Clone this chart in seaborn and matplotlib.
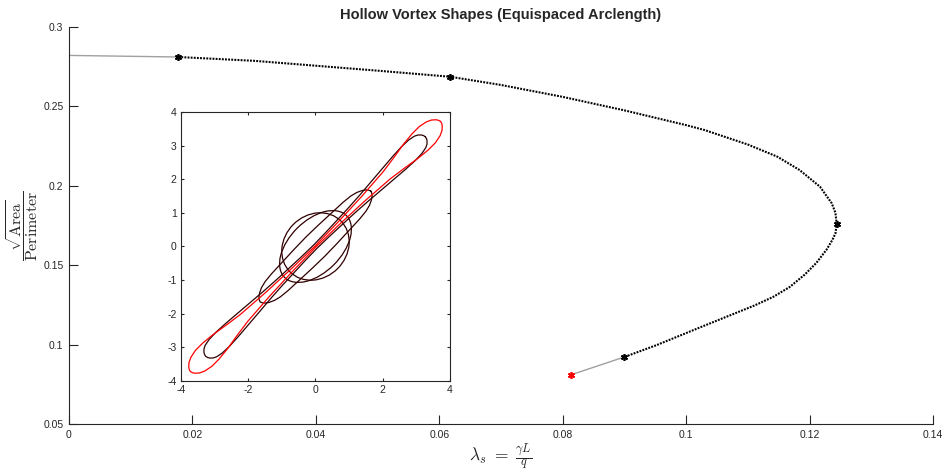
import numpy as np
import matplotlib
matplotlib.use("Agg")
import matplotlib.pyplot as plt
from matplotlib.patches import Ellipse
from matplotlib.transforms import Affine2D
import seaborn as sns

# sqrt(Area)/Perimeter against lambda_s
lam_start = [0.0, 0.0177]
ratio_start = [0.2821, 0.2811]

lam_branch = [0.0177, 0.0300, 0.0400, 0.0500, 0.0617, 0.0700, 0.0800, 0.0900,
              0.1000, 0.1030, 0.1100, 0.1148, 0.1184, 0.1217, 0.1236, 0.1242,
              0.1244, 0.1242, 0.1237, 0.1228, 0.1211, 0.1192, 0.1168, 0.1141,
              0.1110, 0.1025, 0.0953, 0.0900]
ratio_branch = [0.2811, 0.2787, 0.2756, 0.2725, 0.2687, 0.2635, 0.2560, 0.2475,
                0.2382, 0.2351, 0.2260, 0.2183, 0.2099, 0.1994, 0.1890, 0.1830,
                0.1760, 0.1700, 0.1659, 0.1600, 0.1514, 0.1440, 0.1363, 0.1300,
                0.1245, 0.1112, 0.0998, 0.0922]

lam_end = [0.0900, 0.0813]
ratio_end = [0.0922, 0.0809]

lam_marked = [0.0177, 0.0617, 0.1244, 0.0900]
ratio_marked = [0.2811, 0.2687, 0.1760, 0.0922]
lam_last = [0.0813]
ratio_last = [0.0809]

xticks = [0, 0.02, 0.04, 0.06, 0.08, 0.1, 0.12, 0.14]
yticks = [0.05, 0.1, 0.15, 0.2, 0.25, 0.3]

# inset shapes, in a frame along the diagonal (u) and across it (half width h)
circle_axes = (1.07, 0.93)
ellipse_axes = (1.30, 0.77)

turn_u = [0.0, 0.5, 1.0, 1.5, 1.8, 2.0, 2.15, 2.25, 2.30, 2.33]
turn_h = [0.40, 0.39, 0.37, 0.35, 0.32, 0.27, 0.20, 0.13, 0.07, 0.0]

lower_u = [0.0, 0.5, 1.0, 1.5, 2.0, 2.5, 3.0, 3.5, 3.9, 4.2, 4.4, 4.5, 4.57, 4.60, 4.62]
lower_h = [0.07, 0.08, 0.10, 0.12, 0.15, 0.19, 0.23, 0.27, 0.29, 0.28, 0.24, 0.19, 0.12, 0.07, 0.0]

red_u = [0.0, 1.0, 2.0, 3.0, 3.5, 4.0, 4.4, 4.7, 4.95, 5.1, 5.2, 5.24, 5.26]
red_h = [0.02, 0.04, 0.08, 0.15, 0.22, 0.30, 0.34, 0.34, 0.29, 0.22, 0.13, 0.07, 0.0]

inset_ticks = [-4, -3, -2, -1, 0, 1, 2, 3, 4]
inset_xticks = [-4, -2, 0, 2, 4]

dark = "#300000"
axis_grey = "#262626"


def outline(u, h):
    u = np.asarray(u)
    h = np.asarray(h)
    uu = np.concatenate([u[::-1], -u[1:]])
    hh = np.concatenate([h[::-1], h[1:]])
    xs = np.concatenate([uu, -uu, uu[:1]])
    ys = np.concatenate([hh, -hh, hh[:1]])
    return xs, ys


sns.set_style("ticks")
plt.rcParams["font.family"] = ["Liberation Sans", "DejaVu Sans"]
plt.rcParams["mathtext.fontset"] = "cm"
plt.rcParams["axes.edgecolor"] = axis_grey
plt.rcParams["xtick.color"] = axis_grey
plt.rcParams["ytick.color"] = axis_grey

fig = plt.figure(figsize=(9.46, 4.71), dpi=100)
ax = fig.add_axes([0.0729, 0.0998, 0.9133, 0.8429])

sns.lineplot(x=lam_start, y=ratio_start, color="#a0a0a0", lw=1.0,
             sort=False, estimator=None, ax=ax)
sns.lineplot(x=lam_end, y=ratio_end, color="#a0a0a0", lw=1.0,
             sort=False, estimator=None, ax=ax)
sns.lineplot(x=lam_branch, y=ratio_branch, color="black", lw=1.5,
             linestyle=(0, (0.9, 0.6)), sort=False, estimator=None, ax=ax)
ax.plot(lam_marked, ratio_marked, ls="none", marker=(6, 2, 0), ms=5,
        mew=1.2, color="black")
ax.plot(lam_last, ratio_last, ls="none", marker=(6, 2, 0), ms=5,
        mew=1.2, color="red")

ax.set_xlim(0, 0.14)
ax.set_ylim(0.05, 0.3)
ax.set_xticks(xticks)
ax.set_xticklabels(["%g" % t for t in xticks])
ax.set_yticks(yticks)
ax.set_yticklabels(["%g" % t for t in yticks])
ax.tick_params(direction="in", length=6.2, width=0.8, labelsize=7.5, pad=4,
               labelcolor=axis_grey)
sns.despine(ax=ax)
for s in ["left", "bottom"]:
    ax.spines[s].set_linewidth(0.8)

ax.set_title("Hollow Vortex Shapes (Equispaced Arclength)", fontsize=10.5,
             fontweight="bold", pad=6)
ax.set_xlabel(r"$\lambda_s\ =\ \frac{\gamma L}{q}$", fontsize=12.5, labelpad=1)
ax.set_ylabel(r"$\dfrac{\sqrt{\mathrm{Area}}}{\mathrm{Perimeter}}$",
              fontsize=11.5, labelpad=2)

# inset with the shapes
axi = fig.add_axes([0.1913, 0.1911, 0.2844, 0.5711])
rot = Affine2D().rotate_deg(45) + axi.transData

axi.add_patch(Ellipse((0, 0), 2 * circle_axes[0], 2 * circle_axes[1], angle=45,
                      fill=False, ec=dark, lw=0.9))
axi.add_patch(Ellipse((0, 0), 2 * ellipse_axes[0], 2 * ellipse_axes[1], angle=45,
                      fill=False, ec=dark, lw=0.9))
for su, sh in [(turn_u, turn_h), (lower_u, lower_h)]:
    xs, ys = outline(su, sh)
    axi.plot(xs, ys, color=dark, lw=0.9, transform=rot)
xs, ys = outline(red_u, red_h)
axi.plot(xs, ys, color="red", lw=0.9, transform=rot)

axi.set_xlim(-4, 4)
axi.set_ylim(-4, 4)
axi.set_xticks(inset_xticks)
axi.set_yticks(inset_ticks)
axi.set_xticklabels([str(t) for t in inset_xticks])
axi.set_yticklabels([str(t) for t in inset_ticks])
axi.tick_params(direction="in", length=2.4, width=0.8, labelsize=7.5, pad=3,
                top=True, right=True, labelcolor=axis_grey)
for s in axi.spines.values():
    s.set_linewidth(0.8)
    s.set_visible(True)

fig.savefig("out.png", dpi=100)
